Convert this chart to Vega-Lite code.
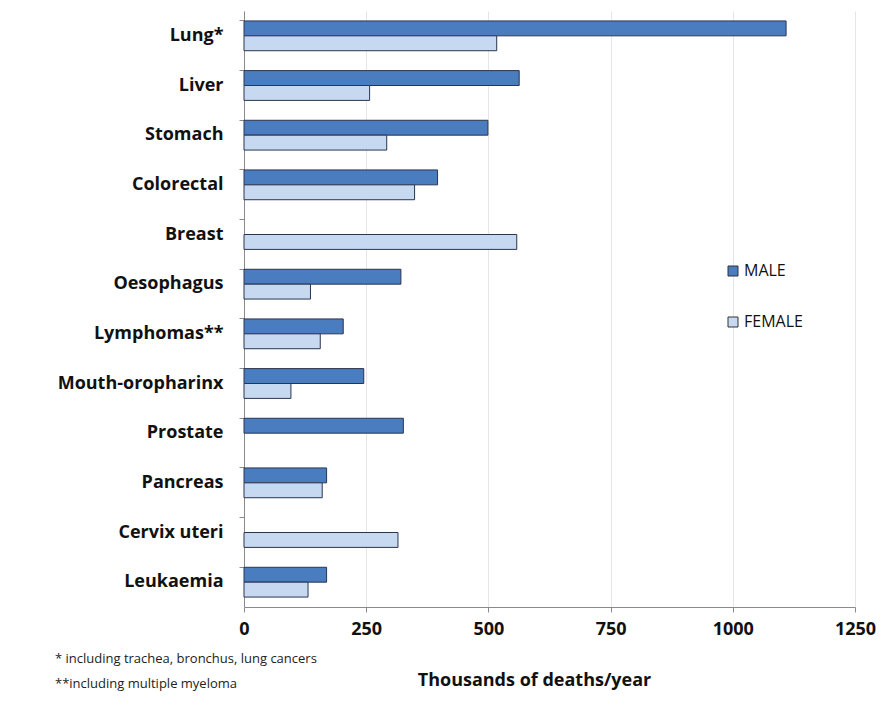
{
  "$schema": "https://vega.github.io/schema/vega-lite/v6.json",
  "autosize": {"type": "none"},
  "padding": {"left": 244, "top": 11, "right": 35, "bottom": 95},
  "width": 611,
  "height": 596,
  "background": "white",
  "config": {
    "font": "Open Sans",
    "view": {"stroke": null}
  },
  "title": {
    "text": ["* including trachea, bronchus, lung cancers", "**including multiple myeloma"],
    "orient": "bottom",
    "anchor": "start",
    "frame": "group",
    "font": "Open Sans",
    "fontSize": 13,
    "fontWeight": "normal",
    "color": "#222222",
    "lineHeight": 25,
    "dx": -189,
    "dy": -36,
    "offset": 0
  },
  "data": {
    "values": [
      {"cancer": "Lung*", "sex": "MALE", "deaths": 1109},
      {"cancer": "Lung*", "sex": "FEMALE", "deaths": 517},
      {"cancer": "Liver", "sex": "MALE", "deaths": 563},
      {"cancer": "Liver", "sex": "FEMALE", "deaths": 257},
      {"cancer": "Stomach", "sex": "MALE", "deaths": 499},
      {"cancer": "Stomach", "sex": "FEMALE", "deaths": 292},
      {"cancer": "Colorectal", "sex": "MALE", "deaths": 396},
      {"cancer": "Colorectal", "sex": "FEMALE", "deaths": 349},
      {"cancer": "Breast", "sex": "FEMALE", "deaths": 558},
      {"cancer": "Oesophagus", "sex": "MALE", "deaths": 321},
      {"cancer": "Oesophagus", "sex": "FEMALE", "deaths": 136},
      {"cancer": "Lymphomas**", "sex": "MALE", "deaths": 203},
      {"cancer": "Lymphomas**", "sex": "FEMALE", "deaths": 156},
      {"cancer": "Mouth-oropharinx", "sex": "MALE", "deaths": 245},
      {"cancer": "Mouth-oropharinx", "sex": "FEMALE", "deaths": 96},
      {"cancer": "Prostate", "sex": "MALE", "deaths": 326},
      {"cancer": "Pancreas", "sex": "MALE", "deaths": 169},
      {"cancer": "Pancreas", "sex": "FEMALE", "deaths": 160},
      {"cancer": "Cervix uteri", "sex": "FEMALE", "deaths": 315},
      {"cancer": "Leukaemia", "sex": "MALE", "deaths": 169},
      {"cancer": "Leukaemia", "sex": "FEMALE", "deaths": 131}
    ]
  },
  "mark": {"type": "bar", "stroke": "#2a3550", "strokeWidth": 1},
  "encoding": {
    "y": {
      "field": "cancer",
      "type": "nominal",
      "sort": ["Lung*", "Liver", "Stomach", "Colorectal", "Breast", "Oesophagus", "Lymphomas**", "Mouth-oropharinx", "Prostate", "Pancreas", "Cervix uteri", "Leukaemia"],
      "scale": {"paddingInner": 0.4, "paddingOuter": 0.2},
      "axis": {
        "title": null,
        "bandPosition": 0,
        "domainColor": "#8a8a8a",
        "tickColor": "#8a8a8a",
        "tickSize": 5,
        "labelFont": "Open Sans",
        "labelFontSize": 18,
        "labelFontWeight": "bold",
        "labelColor": "#111111",
        "labelPadding": 16,
        "labelBaseline": "middle",
        "labelOffset": 0,
        "grid": false
      }
    },
    "yOffset": {
      "field": "sex",
      "type": "nominal",
      "scale": {"domain": ["MALE", "FEMALE"], "paddingInner": 0, "paddingOuter": 0}
    },
    "x": {
      "field": "deaths",
      "type": "quantitative",
      "scale": {"domain": [0, 1250], "nice": false},
      "axis": {
        "values": [0, 250, 500, 750, 1000, 1250],
        "format": "d",
        "title": "Thousands of deaths/year",
        "titleFont": "Open Sans",
        "titleFontSize": 18,
        "titleFontWeight": "bold",
        "titleColor": "#111111",
        "titleX": 290,
        "titleY": 73,
        "titleBaseline": "middle",
        "titleAnchor": "start",
        "titleAlign": "center",
        "domainColor": "#8a8a8a",
        "tickColor": "#8a8a8a",
        "tickSize": 5,
        "gridColor": "#e6e6e6",
        "grid": true,
        "labelFont": "Open Sans",
        "labelFontSize": 18,
        "labelFontWeight": "bold",
        "labelColor": "#111111",
        "labelPadding": 8,
        "labelFlush": false
      }
    },
    "color": {
      "field": "sex",
      "type": "nominal",
      "scale": {"domain": ["MALE", "FEMALE"], "range": ["#4A7CC0", "#C6D9F1"]},
      "legend": {
        "title": null,
        "orient": "none",
        "legendX": 481,
        "legendY": 252,
        "symbolType": "square",
        "symbolSize": 100,
        "symbolStrokeColor": "#333333",
        "symbolStrokeWidth": 1,
        "labelFont": "Open Sans",
        "labelFontSize": 16,
        "labelColor": "#111111",
        "labelOffset": 3,
        "rowPadding": 35
      }
    }
  }
}
